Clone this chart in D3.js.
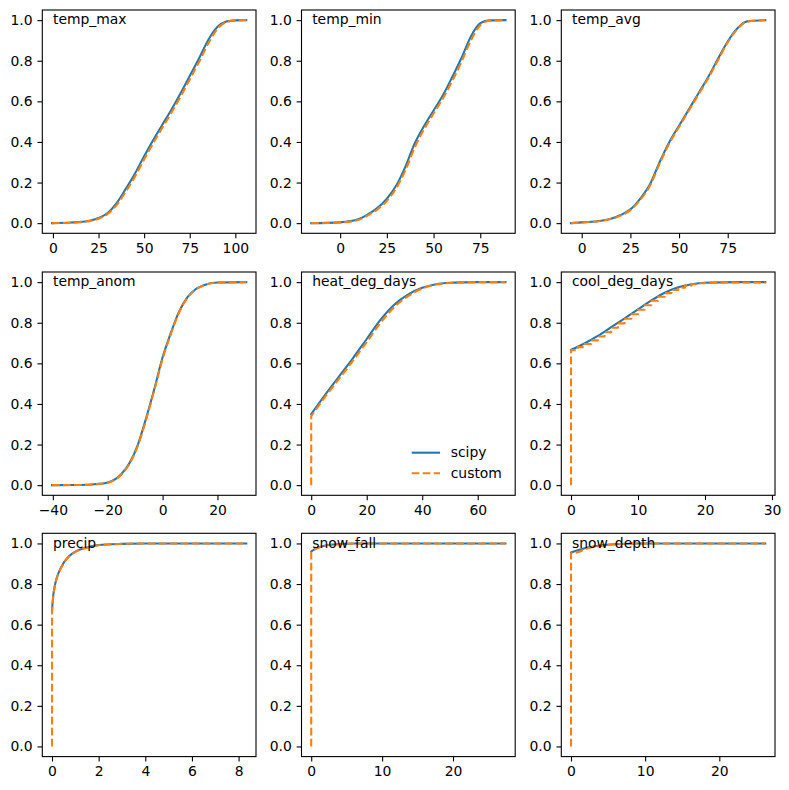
<!DOCTYPE html>
<meta charset="utf-8">
<style>
body { margin: 0; background: #fff; }
text { font-family: "DejaVu Sans", sans-serif; font-size: 13.9px; fill: #000; }
</style>
<svg width="789" height="790"></svg>
<script src="https://d3js.org/d3.v7.min.js"></script>
<script>

// ---- data ----
var names = ["temp_max", "temp_min", "temp_avg", "temp_anom", "heat_deg_days",
             "cool_deg_days", "precip", "snow_fall", "snow_depth"];
var seriesNames = ["scipy", "custom"];
var yTicks = [0, 0.2, 0.4, 0.6, 0.8, 1.0];

var tempMaxX      = [-0.5, 10, 20, 25, 30, 35, 40, 45, 50, 55, 60, 65, 70, 75, 80, 85, 90, 95, 100, 106];
var tempMaxScipy  = [0, 0.003, 0.012, 0.025, 0.05, 0.1, 0.17, 0.245, 0.33, 0.41, 0.485, 0.56, 0.64, 0.725, 0.81, 0.9, 0.965, 0.993, 0.999, 1.0];
var tempMaxCustom = [0, 0.002, 0.01, 0.022, 0.045, 0.09, 0.156, 0.23, 0.314, 0.395, 0.47, 0.545, 0.624, 0.708, 0.792, 0.882, 0.955, 0.99, 0.999, 1.0];
var tempMaxTicks  = [0, 25, 50, 75, 100];

var tempMinX      = [-15.5, 0, 10, 16, 20, 25, 30, 35, 40, 45, 50, 55, 60, 65, 70, 75, 80, 88.5];
var tempMinScipy  = [0, 0.004, 0.02, 0.05, 0.075, 0.12, 0.185, 0.28, 0.395, 0.48, 0.555, 0.63, 0.72, 0.815, 0.92, 0.985, 0.999, 1.0];
var tempMinCustom = [0, 0.003, 0.017, 0.045, 0.068, 0.11, 0.172, 0.262, 0.375, 0.464, 0.54, 0.614, 0.7, 0.796, 0.9, 0.975, 0.997, 1.0];
var tempMinTicks  = [0, 25, 50, 75];

var tempAvgX      = [-5.5, 0, 10, 15, 20, 25, 30, 35, 40, 45, 50, 55, 60, 65, 70, 75, 80, 85, 94.3];
var tempAvgScipy  = [0, 0.004, 0.012, 0.022, 0.04, 0.068, 0.12, 0.19, 0.3, 0.4, 0.48, 0.56, 0.64, 0.72, 0.81, 0.895, 0.96, 0.994, 1.0];
var tempAvgCustom = [0, 0.003, 0.011, 0.02, 0.037, 0.064, 0.114, 0.183, 0.292, 0.393, 0.474, 0.554, 0.634, 0.714, 0.803, 0.89, 0.957, 0.993, 1.0];
var tempAvgTicks  = [0, 25, 50, 75];

var tempAnomX      = [-40.3, -30, -25, -20, -15, -12, -9, -6, -3, 0, 3, 6, 9, 12, 15, 20, 30.5];
var tempAnomScipy  = [0, 0.001, 0.004, 0.013, 0.055, 0.11, 0.2, 0.33, 0.475, 0.63, 0.75, 0.855, 0.925, 0.965, 0.985, 0.998, 1.0];
var tempAnomCustom = [0, 0.001, 0.004, 0.012, 0.052, 0.106, 0.195, 0.323, 0.468, 0.622, 0.744, 0.85, 0.922, 0.963, 0.984, 0.998, 1.0];
var tempAnomTicks  = [-40, -20, 0, 20];

var heatX       = [0, 5, 10, 15, 20, 25, 30, 35, 40, 45, 50, 55, 60, 70];
var heatScipy   = [0.35, 0.445, 0.535, 0.625, 0.72, 0.815, 0.89, 0.94, 0.972, 0.99, 0.997, 0.999, 1.0, 1.0];
var heatCustomX = [0, 0, 5, 10, 15, 20, 25, 30, 35, 40, 45, 50, 55, 60, 70];
var heatCustom  = [0, 0.34, 0.435, 0.523, 0.612, 0.705, 0.8, 0.878, 0.932, 0.968, 0.988, 0.996, 0.999, 1.0, 1.0];
var heatTicks   = [0, 20, 40, 60];

var coolX       = [0, 2, 4, 6, 8, 10, 12, 14, 16, 18, 20, 25, 29];
var coolScipy   = [0.667, 0.698, 0.735, 0.778, 0.822, 0.866, 0.91, 0.948, 0.975, 0.99, 0.997, 1.0, 1.0];
var coolCustomX = [0, 0, 1, 2, 3, 4, 5, 6, 7, 8, 9, 10, 11, 12, 13, 14, 15, 16, 17, 18, 19, 20, 29];
var coolCustom  = [0, 0.665, 0.68, 0.695, 0.713, 0.732, 0.753, 0.775, 0.797, 0.82, 0.842, 0.864, 0.886, 0.908, 0.928, 0.946, 0.961, 0.973, 0.983, 0.99, 0.995, 0.998, 1.0];
var coolTicks   = [0, 10, 20, 30];

var precipX       = [0, 0.05, 0.1, 0.2, 0.3, 0.5, 0.75, 1, 1.5, 2, 3, 4, 8.33];
var precipScipy   = [0.67, 0.74, 0.78, 0.83, 0.86, 0.905, 0.94, 0.96, 0.98, 0.992, 0.998, 1.0, 1.0];
var precipCustomX = [0, 0, 0.05, 0.1, 0.2, 0.3, 0.5, 0.75, 1, 1.5, 2, 3, 4, 8.33];
var precipCustom  = [0, 0.665, 0.735, 0.775, 0.826, 0.857, 0.902, 0.938, 0.958, 0.979, 0.991, 0.998, 1.0, 1.0];
var precipTicks   = [0, 2, 4, 6, 8];

var snowFallX       = [0, 0.5, 1, 2, 4, 6, 27.4];
var snowFallScipy   = [0.96, 0.972, 0.98, 0.99, 0.997, 1.0, 1.0];
var snowFallCustomX = [0, 0, 0.5, 1, 2, 4, 6, 27.4];
var snowFallCustom  = [0, 0.958, 0.97, 0.979, 0.989, 0.996, 1.0, 1.0];
var snowFallTicks   = [0, 10, 20];

var snowDepthX       = [0, 1, 2, 4, 6, 9, 26.2];
var snowDepthScipy   = [0.955, 0.968, 0.978, 0.99, 0.996, 1.0, 1.0];
var snowDepthCustomX = [0, 0, 1, 2, 4, 6, 9, 26.2];
var snowDepthCustom  = [0, 0.952, 0.958, 0.974, 0.988, 0.995, 1.0, 1.0];
var snowDepthTicks   = [0, 10, 20];

var panels = [
  {x: tempMaxX,   s: tempMaxScipy,   cx: tempMaxX,         c: tempMaxCustom,   ticks: tempMaxTicks},
  {x: tempMinX,   s: tempMinScipy,   cx: tempMinX,         c: tempMinCustom,   ticks: tempMinTicks},
  {x: tempAvgX,   s: tempAvgScipy,   cx: tempAvgX,         c: tempAvgCustom,   ticks: tempAvgTicks},
  {x: tempAnomX,  s: tempAnomScipy,  cx: tempAnomX,        c: tempAnomCustom,  ticks: tempAnomTicks},
  {x: heatX,      s: heatScipy,      cx: heatCustomX,      c: heatCustom,      ticks: heatTicks, legend: true},
  {x: coolX,      s: coolScipy,      cx: coolCustomX,      c: coolCustom,      ticks: coolTicks, step: true},
  {x: precipX,    s: precipScipy,    cx: precipCustomX,    c: precipCustom,    ticks: precipTicks},
  {x: snowFallX,  s: snowFallScipy,  cx: snowFallCustomX,  c: snowFallCustom,  ticks: snowFallTicks},
  {x: snowDepthX, s: snowDepthScipy, cx: snowDepthCustomX, c: snowDepthCustom, ticks: snowDepthTicks}
];

// ---- layout ----
var lefts = [42.3, 301.5, 561.3],
    tops = [10, 272, 533.3],
    w = 213.7, h = 223.3;

var blue = '#1f77b4', orange = '#ff7f0e';
var lw = 2.08, dash = '7.7,3.3';
var tick = 4.86;

var svg = d3.select("svg");

panels.forEach(function(p, i) {
  var col = i % 3, row = Math.floor(i / 3);
  var g = svg.append("g").attr("transform", "translate(" + lefts[col] + "," + tops[row] + ")");

  var allX = p.x.concat(p.cx);
  var lo = d3.min(allX), hi = d3.max(allX), pad = (hi - lo) * 0.05;
  var x = d3.scaleLinear().domain([lo - pad, hi + pad]).range([0, w]);
  var y = d3.scaleLinear().domain([-0.05, 1.05]).range([h, 0]);

  g.append("clipPath").attr("id", "clip" + i)
    .append("rect").attr("width", w).attr("height", h);

  var plot = g.append("g").attr("clip-path", "url(#clip" + i + ")");

  var smooth = d3.line().x(d => x(d[0])).y(d => y(d[1])).curve(d3.curveMonotoneX);

  var sPts = p.x.map((v, k) => [v, p.s[k]]);
  plot.append("path")
    .attr("d", smooth(sPts))
    .attr("fill", "none").attr("stroke", blue).attr("stroke-width", lw)
    .attr("stroke-linejoin", "round").attr("stroke-linecap", "square");

  var cPts = p.cx.map((v, k) => [v, p.c[k]]);
  var cd;
  if (p.step) {
    cd = d3.line().x(d => x(d[0])).y(d => y(d[1])).curve(d3.curveStepAfter)(cPts);
  } else if (cPts.length > 1 && cPts[0][0] === cPts[1][0]) {
    // vertical jump at zero, then the smooth part
    cd = "M" + x(cPts[0][0]) + "," + y(cPts[0][1]) + "L" + smooth(cPts.slice(1)).slice(1);
  } else {
    cd = smooth(cPts);
  }
  plot.append("path")
    .attr("d", cd)
    .attr("fill", "none").attr("stroke", orange).attr("stroke-width", lw)
    .attr("stroke-dasharray", dash).attr("stroke-linejoin", "round");

  // axes
  var xa = g.append("g").attr("transform", "translate(0," + h + ")")
    .call(d3.axisBottom(x).tickValues(p.ticks).tickSize(tick).tickPadding(tick).tickFormat(d3.format("d")));
  var ya = g.append("g")
    .call(d3.axisLeft(y).tickValues(yTicks).tickSize(tick).tickPadding(tick).tickFormat(d3.format(".1f")));
  [xa, ya].forEach(function(a) {
    a.select(".domain").remove();
    a.selectAll("line").attr("stroke", "#000").attr("stroke-width", 1.1);
    a.selectAll("text").attr("font-family", null).attr("font-size", null).style("fill", "#000");
  });

  g.append("rect").attr("width", w).attr("height", h)
    .attr("fill", "none").attr("stroke", "#000").attr("stroke-width", 1.1);

  g.append("text")
    .attr("x", 0.05 * w).attr("y", 0.05 * h + 3.2)
    .text(names[i]);

  if (p.legend) {
    var lg = g.append("g").attr("transform", "translate(" + (w - 103.5) + "," + (h - 42.6) + ")");
    seriesNames.forEach(function(nm, k) {
      lg.append("line")
        .attr("x1", 0).attr("x2", 28.3).attr("y1", k * 20.6).attr("y2", k * 20.6)
        .attr("stroke", k ? orange : blue).attr("stroke-width", lw)
        .attr("stroke-dasharray", k ? dash : null);
      lg.append("text")
        .attr("x", 39).attr("y", k * 20.6 + 4.6)
        .text(nm);
    });
  }
});

</script>
